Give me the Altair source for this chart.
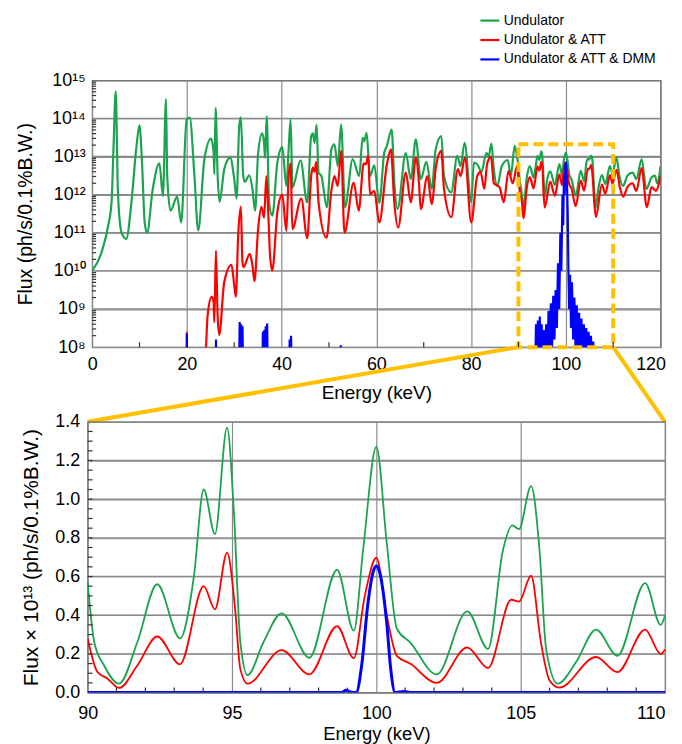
import altair as alt
import pandas as pd

FONT = "Liberation Sans"
SERIES = ["Undulator", "Undulator & ATT", "Undulator & ATT & DMM"]
COLORS = ["#1ba44e", "#ff0000", "#0000ff"]
GOLD = "#ffc000"
GRID = "#8a8a8a"
TICK = "#333"

# ---------------- top panel: (energy keV, log10 flux) ----------------
top_green_low = [
    (0, 10.0), (2.0, 10.49), (3.4, 11.19), (4.1, 11.8), (4.55, 13.36), (4.98, 14.71),
    (5.45, 12.06), (6.2, 11.01), (7.2, 10.84), (8.3, 11.8), (9.3, 13.19), (10.0, 13.82),
    (10.5, 12.93), (11.1, 11.27), (11.6, 11.0), (12.8, 12.15), (14.2, 12.82), (14.95, 11.97),
    (15.6, 14.51), (15.85, 12.5), (16.55, 11.58), (17.95, 11.95), (18.8, 11.27), (19.95, 13.97),
    (20.6, 14.02), (21.6, 12.49), (22.4, 11.06), (23.7, 12.93), (25.1, 13.47), (25.65, 13.1),
    (25.8, 12.54), (26.07, 14.28), (26.5, 12.49), (26.9, 11.81), (27.9, 12.67), (29.15, 12.97),
    (30.0, 12.41), (30.5, 11.9), (31.05, 13.8), (31.4, 14.03), (31.9, 12.49), (32.25, 12.34),
    (33.15, 12.51), (33.85, 12.15), (34.4, 11.58), (35.05, 13.1), (35.9, 13.61), (36.3, 13.36),
    (36.5, 12.97), (36.86, 14.06), (37.35, 11.8), (38.05, 11.45), (39.1, 12.84), (40.15, 13.25),
    (41.0, 12.23), (41.5, 13.23), (41.9, 13.97), (42.3, 12.19), (44.0, 12.9), (45.4, 11.8),
    (46.25, 13.54), (46.6, 13.61), (46.96, 13.36), (47.38, 13.84), (47.8, 12.58), (48.4, 12.49),
    (49.56, 11.67), (50.5, 13.19), (51.16, 13.32), (51.86, 12.75), (52.56, 13.84), (53.4, 11.67),
    (55.0, 12.93), (56.4, 12.49), (57.1, 13.49), (57.45, 13.4), (57.95, 13.62), (58.65, 12.49),
    (59.57, 12.77), (60.62, 11.78), (61.67, 13.1), (62.23, 13.28), (63.23, 13.71), (63.8, 12.32),
    (64.47, 11.62), (66.22, 13.09), (67.27, 12.41), (68.33, 13.45), (69.38, 12.41), (70.57, 12.86),
    (71.69, 12.15), (72.53, 13.19), (73.72, 13.54), (74.28, 12.49), (75.82, 12.06), (77.08, 13.02),
    (77.78, 12.75), (78.63, 13.36), (80.03, 11.8), (80.6, 12.84), (81.3, 12.8), (82.2, 12.6),
    (83.25, 13.1), (83.7, 13.0), (84.3, 13.34), (84.8, 12.67), (85.5, 12.23), (86.5, 12.75),
    (87.74, 12.91), (88.4, 12.5), (89.2, 13.28), (89.7, 13.0),
]
top_green_high = [
    (110.7, 12.97), (111.3, 12.5), (112.1, 12.23), (113.0, 12.5), (114.1, 12.58), (114.9, 12.41),
    (116.0, 12.93), (117.0, 12.15), (118.1, 12.45), (118.8, 12.5), (119.3, 12.3), (120.0, 12.75),
]
top_red_low = [
    (19.9, 7.0), (20.0, 8.4), (20.1, 7.0), (23.6, 7.0), (24.39, 8.84), (25.23, 9.32),
    (25.65, 9.19), (25.79, 8.65), (26.14, 10.53), (26.49, 8.84), (26.84, 8.32), (27.89, 9.71),
    (29.43, 10.16), (30.0, 9.62), (30.34, 9.32), (30.83, 10.93), (31.39, 11.69), (31.74, 10.23),
    (31.95, 10.1), (33.29, 10.45), (33.85, 10.14), (34.27, 9.73), (35.04, 11.1), (35.74, 11.68),
    (36.3, 11.4), (36.79, 12.49), (37.21, 11.45), (37.56, 10.4), (38.04, 10.01), (39.1, 11.54),
    (40.15, 12.0), (41.0, 11.05), (41.49, 12.49), (41.91, 12.82), (42.26, 11.1), (44.15, 11.9),
    (45.41, 10.86), (46.25, 12.49), (46.6, 12.71), (46.96, 12.6), (47.3, 12.86), (47.8, 11.8),
    (49.49, 10.87), (50.5, 12.1), (51.16, 12.49), (51.86, 12.23), (52.56, 13.15), (53.27, 11.0),
    (55.22, 12.32), (56.28, 11.58), (57.33, 12.82), (57.8, 12.8), (58.3, 13.02), (58.65, 12.01),
    (59.57, 12.1), (60.62, 11.27), (62.23, 12.8), (63.07, 13.19), (63.79, 11.8), (64.61, 11.14),
    (66.22, 12.58), (67.27, 11.8), (68.33, 12.97), (69.0, 12.3), (69.38, 11.62), (70.78, 12.49),
    (71.69, 11.75), (72.6, 12.75), (73.72, 13.15), (74.28, 12.15), (75.82, 11.41), (77.22, 12.67),
    (77.78, 12.49), (78.7, 12.97), (80.03, 11.27), (81.3, 12.49), (82.0, 12.6), (82.8, 12.15),
    (83.4, 12.82), (84.2, 13.0), (84.8, 12.3), (86.0, 12.2), (86.9, 11.8), (87.9, 12.62),
    (88.8, 12.3), (89.7, 12.75),
]
top_red_high = [
    (110.7, 12.65), (111.4, 12.2), (112.1, 11.95), (113.0, 12.2), (114.1, 12.3), (114.9, 12.1),
    (116.0, 12.7), (117.1, 11.67), (118.1, 12.2), (119.0, 12.1), (120.0, 12.49),
]
top_blue = [
    (19.9, 7.0), (20.0, 8.36), (20.1, 7.0), (26.05, 7.0), (26.15, 8.2), (26.25, 7.0),
    (31.0, 7.0), (31.15, 8.66), (31.3, 7.6), (31.45, 8.6), (31.6, 7.6), (31.75, 8.55), (31.9, 7.0),
    (35.9, 7.0), (36.05, 8.4), (36.2, 7.6), (36.35, 8.45), (36.5, 7.6), (36.65, 8.55), (36.8, 7.6),
    (36.95, 8.62), (37.1, 7.0), (41.55, 7.0), (41.7, 8.2), (41.85, 7.6), (42.0, 8.3), (42.15, 7.0),
    (52.4, 7.0), (52.5, 8.05), (52.6, 7.0),
    (93.5, 7.0), (93.7, 8.6), (93.9, 7.5), (94.1, 8.7), (94.3, 7.5), (94.5, 8.8), (94.7, 7.5),
    (94.9, 8.6), (95.1, 7.5), (95.35, 8.45), (95.6, 7.5), (95.85, 8.6), (96.1, 7.6), (96.35, 8.95),
    (96.6, 7.8), (96.85, 9.15), (97.1, 8.0), (97.35, 9.35), (97.6, 8.2), (97.85, 9.5), (98.1, 8.5),
    (98.35, 10.2), (98.6, 9.0), (98.85, 11.0), (99.05, 10.0), (99.3, 12.0), (99.45, 11.2),
    (99.6, 12.5), (99.75, 12.0), (99.9, 12.75), (100.0, 12.86), (100.1, 12.6), (100.25, 12.3),
    (100.4, 11.5), (100.55, 10.0), (100.7, 9.0), (100.9, 9.9), (101.1, 8.5), (101.3, 9.7),
    (101.55, 8.2), (101.8, 9.3), (102.05, 8.0), (102.3, 9.1), (102.55, 7.8), (102.8, 8.9),
    (103.05, 7.6), (103.3, 8.75), (103.55, 7.5), (103.8, 8.6), (104.05, 7.5), (104.3, 8.5),
    (104.55, 7.5), (104.8, 8.4), (105.05, 7.5), (105.3, 8.3), (105.55, 7.5), (105.8, 8.15),
    (106.0, 7.0),
]

# ---------------- zoom panel: (energy keV, flux / 1e13) ----------------
zoom_green = [
    (90.0, 0.57), (90.23, 0.26), (90.57, 0.14), (91.09, 0.046), (91.72, 0.26), (92.41, 0.56),
    (93.2, 0.28), (93.68, 0.6), (94.02, 1.05), (94.41, 0.82), (94.83, 1.37), (95.06, 0.95),
    (95.29, 0.26), (95.54, 0.09), (96.09, 0.26), (96.72, 0.41), (97.68, 0.18), (98.64, 0.635),
    (99.22, 0.32), (99.55, 0.75), (100.0, 1.27), (100.36, 0.775), (100.71, 0.33), (101.17, 0.26),
    (102.09, 0.094), (103.15, 0.42), (103.87, 0.226), (104.39, 0.74), (104.71, 0.865),
    (104.94, 0.845), (105.36, 1.067), (105.65, 0.74), (105.88, 0.226), (106.28, 0.046),
    (106.92, 0.158), (107.61, 0.326), (108.35, 0.19), (109.31, 0.566), (109.85, 0.35), (110.0, 0.40),
]
zoom_red = [
    (90.0, 0.28), (90.34, 0.106), (90.69, 0.072), (91.09, 0.024), (91.72, 0.14), (92.41, 0.29),
    (93.2, 0.146), (94.02, 0.55), (94.41, 0.43), (94.83, 0.724), (95.11, 0.43), (95.29, 0.12),
    (95.54, 0.046), (96.72, 0.22), (97.68, 0.094), (98.64, 0.343), (99.22, 0.178), (99.6, 0.5),
    (100.0, 0.697), (100.36, 0.4), (100.71, 0.19), (101.17, 0.15), (102.09, 0.05), (103.15, 0.233),
    (103.87, 0.127), (104.67, 0.48), (104.94, 0.47), (105.36, 0.604), (105.7, 0.26), (106.0, 0.063),
    (106.34, 0.026), (107.61, 0.184), (108.35, 0.106), (109.31, 0.326), (109.85, 0.2), (110.0, 0.223),
]
zoom_blue = [
    (90.0, 0.0), (98.8, 0.0), (98.95, 0.012), (99.1, 0.003), (99.3, 0.0), (99.5, 0.15),
    (99.7, 0.45), (99.9, 0.63), (100.0, 0.655), (100.1, 0.63), (100.36, 0.36), (100.5, 0.12),
    (100.65, 0.0), (100.95, 0.006), (101.2, 0.0), (110.0, 0.0),
]

# ---------------- ticks / annotations ----------------
top_x_range = [0, 120]
top_y_range = [1e8, 1e15]
top_x_ticks = [0, 20, 40, 60, 80, 100, 120]
top_y_ticks = [1e8, 1e9, 1e10, 1e11, 1e12, 1e13, 1e14, 1e15]
top_x_minor = [10, 30, 50, 70, 90, 110]
top_y_minor = [k * 10.0 ** n for n in range(8, 15) for k in range(2, 10)]
zoom_range = [90, 110]
zoom_y_range = [0, 1.4]
zoom_x_ticks = [90, 95, 100, 105, 110]
zoom_y_ticks = [0, 0.2, 0.4, 0.6, 0.8, 1.0, 1.2, 1.4]
zoom_x_minor = [91, 92, 93, 94, 96, 97, 98, 99, 101, 102, 103, 104, 106, 107, 108, 109]
zoom_y_minor = [round(i * 0.05, 2) for i in range(1, 28)]
box_top = 2.1e13

# ---------------- layout constants ----------------
TOP_W, TOP_H = 571, 268
BOT_W, BOT_H = 580, 272
GAP = 75
MINOR_PX = 5

# ---------------- data frames ----------------
def frame(parts, series):
    rows = []
    for pairs, kind in parts:
        for e, v in pairs:
            f = 10.0 ** v if kind == "log" else v * 1e13
            rows.append({"E": e, "flux": f, "series": series})
    return pd.DataFrame(rows)

top_g = frame([(top_green_low, "log"), (zoom_green, "lin"), (top_green_high, "log")], SERIES[0])
top_r = frame([(top_red_low, "log"), (zoom_red, "lin"), (top_red_high, "log")], SERIES[1])
top_b = frame([(top_blue, "log")], SERIES[2])

bot_g = pd.DataFrame(zoom_green, columns=["E", "v"])
bot_r = pd.DataFrame(zoom_red, columns=["E", "v"])
bot_b = pd.DataFrame(zoom_blue, columns=["E", "v"])

px_per_kev = TOP_W / (top_x_range[1] - top_x_range[0])
decades_per_px = 7.0 / TOP_H
bot_px_per_kev = BOT_W / (zoom_range[1] - zoom_range[0])
bot_units_per_px = (zoom_y_range[1] - zoom_y_range[0]) / BOT_H

# connector end points (derived from the panel geometry)
dx = (BOT_W - TOP_W) / 2.0
f_low = 10 ** (8 - GAP * decades_per_px)
conn_df = pd.DataFrame({
    "E": [zoom_range[0], -dx / px_per_kev, zoom_range[1], (BOT_W - dx) / px_per_kev],
    "flux": [1e8, f_low, 1e8, f_low],
    "side": ["l", "l", "r", "r"],
})
box_df = pd.DataFrame({"E": [zoom_range[0]], "E2": [zoom_range[1]], "flux": [1e8], "flux2": [box_top]})


def segments(starts, ends, xname, yname):
    """Two-point line segments, one per grid line / minor tick."""
    rows = []
    for i, ((x0, y0), (x1, y1)) in enumerate(zip(starts, ends)):
        rows.append({xname: x0, yname: y0, "id": "s%d" % i})
        rows.append({xname: x1, yname: y1, "id": "s%d" % i})
    return pd.DataFrame(rows)


t_lo, t_hi = top_x_range
top_hgrid = segments([(t_lo, t) for t in top_y_ticks[1:-1]], [(t_hi, t) for t in top_y_ticks[1:-1]], "E", "flux")
tick_top_y = top_y_range[0] * 10 ** (MINOR_PX * decades_per_px)
top_xm = segments([(e, top_y_range[0]) for e in top_x_minor], [(e, tick_top_y) for e in top_x_minor], "E", "flux")
tick_top_x = t_lo + (MINOR_PX - 1) / px_per_kev
top_ym = segments([(t_lo, f) for f in top_y_minor], [(tick_top_x, f) for f in top_y_minor], "E", "flux")

z_lo, z_hi = zoom_range
bot_hgrid = segments([(z_lo, v) for v in zoom_y_ticks[1:-1]], [(z_hi, v) for v in zoom_y_ticks[1:-1]], "E", "v")
tick_bot_y = zoom_y_range[0] + MINOR_PX * bot_units_per_px
bot_xm = segments([(e, zoom_y_range[0]) for e in zoom_x_minor], [(e, tick_bot_y) for e in zoom_x_minor], "E", "v")
tick_bot_x = z_lo + MINOR_PX / bot_px_per_kev
bot_ym = segments([(z_lo, v) for v in zoom_y_minor], [(tick_bot_x, v) for v in zoom_y_minor], "E", "v")

# ---------------- top chart ----------------
xs_top = alt.Scale(domain=top_x_range, nice=False, zero=False)
ys_top = alt.Scale(type="log", domain=top_y_range, nice=False)

sup = "['⁸','⁹','¹⁰','¹¹','¹²','¹³','¹⁴','¹⁵']"
ax_top_x = alt.Axis(values=top_x_ticks, format="d", title="Energy (keV)", labelFlush=False,
                    labelAlign={"condition": {"test": "datum.value >= 120", "value": "right"}, "value": "center"},
                    labelOffset={"condition": {"test": "datum.value >= 120", "value": 5}, "value": 0},
                    labelPadding=8, titlePadding=11, grid=True)
ax_top_y = alt.Axis(values=top_y_ticks, labelFlush=False, grid=True,
                    labelExpr="'10' + " + sup + "[round(log(datum.value)/LN10) - 8]",
                    title="Flux (ph/s/0.1%B.W.)", labelPadding=7, titlePadding=16, titleFontSize=19.5)
x_top = alt.X("E:Q", scale=xs_top, axis=ax_top_x)
y_top = alt.Y("flux:Q", scale=ys_top, axis=ax_top_y)

legend = alt.Legend(title=None, orient="none", legendX=393, legendY=-71, symbolType="stroke",
                    symbolSize=361, symbolStrokeWidth=2, labelFont=FONT, labelFontSize=14,
                    labelOffset=3, rowPadding=1.5, padding=0, labelLimit=400)
color = alt.Color("series:N", scale=alt.Scale(domain=SERIES, range=COLORS), legend=legend)
width_enc = alt.StrokeWidth("series:N", scale=alt.Scale(domain=SERIES, range=[2.2, 2.2, 3]), legend=legend)


def seg_layer(df, x, y, col, w):
    return alt.Chart(df).mark_line(color=col, strokeWidth=w, clip=False, opacity=1).encode(
        x=x, y=y, detail="id:N")


ty_grid = seg_layer(top_hgrid, x_top, y_top, GRID, 1.4)
tx_minor = seg_layer(top_xm, x_top, y_top, TICK, 1.2)
ty_minor = seg_layer(top_ym, x_top, y_top, TICK, 1.2)

line_g = alt.Chart(top_g).mark_line(clip=True, interpolate="monotone").encode(
    x=x_top, y=y_top, color=color, strokeWidth=width_enc)
line_r = alt.Chart(top_r).mark_line(clip=True, interpolate="monotone").encode(
    x=x_top, y=y_top, color=color, strokeWidth=width_enc)
line_b = alt.Chart(top_b).mark_line(clip=True, interpolate="linear").encode(
    x=x_top, y=y_top, color=color, strokeWidth=width_enc)

box = alt.Chart(box_df).mark_rect(fillOpacity=0, stroke=GOLD, strokeWidth=4, strokeDash=[10, 5],
                                  clip=False).encode(
    x=x_top, x2="E2:Q", y=y_top, y2="flux2:Q")

conn = alt.Chart(conn_df).mark_line(clip=False, color=GOLD, strokeWidth=4).encode(
    x=x_top, y=y_top, detail="side:N")

top = alt.layer(ty_grid, line_g, line_r, line_b, box, conn, tx_minor, ty_minor).properties(
    width=TOP_W, height=TOP_H)

# ---------------- bottom (zoom) chart ----------------
xs_bot = alt.Scale(domain=zoom_range, nice=False, zero=False)
ys_bot = alt.Scale(domain=zoom_y_range, nice=False)
ax_bot_x = alt.Axis(values=zoom_x_ticks, format="d", title="Energy (keV)", labelFlush=False,
                    labelAlign={"condition": {"test": "datum.value >= 110", "value": "right"}, "value": "center"},
                    labelPadding=12, titlePadding=2, titleFontSize=18.5, grid=True)
ax_bot_y = alt.Axis(values=zoom_y_ticks, format=".1f", labelFlush=False, grid=True,
                    title="Flux × 10¹³ (ph/s/0.1%B.W.)", labelPadding=8, titlePadding=13,
                    titleFontSize=21)
x_bot = alt.X("E:Q", scale=xs_bot, axis=ax_bot_x)
y_bot = alt.Y("v:Q", scale=ys_bot, axis=ax_bot_y)

by_grid = seg_layer(bot_hgrid, x_bot, y_bot, GRID, 1.4)
bx_minor = seg_layer(bot_xm, x_bot, y_bot, TICK, 1.2)
by_minor = seg_layer(bot_ym, x_bot, y_bot, TICK, 1.2)
b_g = alt.Chart(bot_g).mark_line(clip=True, interpolate="monotone", color=COLORS[0], strokeWidth=1.8).encode(
    x=x_bot, y=y_bot)
b_r = alt.Chart(bot_r).mark_line(clip=True, interpolate="monotone", color=COLORS[1], strokeWidth=1.8).encode(
    x=x_bot, y=y_bot)
b_b = alt.Chart(bot_b).mark_line(clip=True, interpolate="monotone", color=COLORS[2], strokeWidth=3).encode(
    x=x_bot, y=y_bot)

bottom = alt.layer(by_grid, b_g, b_r, b_b, bx_minor, by_minor).properties(width=BOT_W, height=BOT_H)

chart = alt.vconcat(top, bottom, spacing=GAP, bounds="flush", center=True).properties(
    padding={"left": 7, "top": 0, "right": 0, "bottom": 0}
).configure(font=FONT).configure_view(stroke="#444", strokeWidth=1.2).configure_axis(
    labelFont=FONT, titleFont=FONT, labelFontSize=18, titleFontSize=19, titleFontWeight="normal",
    labelColor="#000", titleColor="#000", domain=False, ticks=False, tickSize=0,
    gridColor=GRID, gridWidth=1.2, gridOpacity=1,
)

chart.save("out.html", embed_options={"renderer": "svg", "actions": False})
